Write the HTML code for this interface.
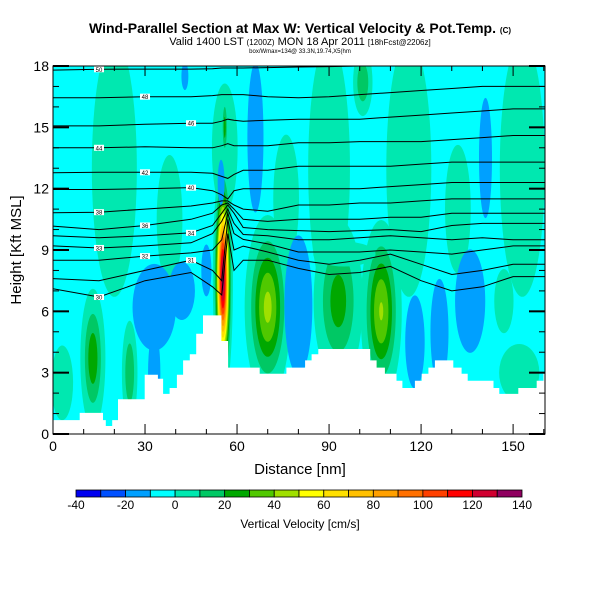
<!DOCTYPE html>
<html><head><meta charset="utf-8"><style>
body{margin:0;background:#fff;}
svg text{font-family:"Liberation Sans",sans-serif;}
</style></head><body>
<svg id="c" width="600" height="600" xmlns="http://www.w3.org/2000/svg">
<text x="300" y="33" text-anchor="middle" font-size="14" font-weight="bold">Wind-Parallel Section at Max W: Vertical Velocity &amp; Pot.Temp. <tspan font-size="8">(C)</tspan></text>
<text x="300" y="45" text-anchor="middle" font-size="11">Valid 1400 LST <tspan font-size="8">(1200Z)</tspan> MON 18 Apr 2011 <tspan font-size="8">[18hFcst@2206z]</tspan></text>
<text x="300" y="53" text-anchor="middle" font-size="6">box/Wmax=134@ 33.3N,19.74,X5(hm</text>
<defs><clipPath id="clip"><rect x="53" y="66" width="492" height="368"/></clipPath></defs>
<g id="plot" clip-path="url(#clip)"></g>
<g id="axes"></g>
<g id="cbar"></g>
<text x="300" y="474" text-anchor="middle" font-size="15">Distance [nm]</text>
<text transform="translate(21,250) rotate(-90)" text-anchor="middle" font-size="15">Height [Kft MSL]</text>
<text x="300" y="528" text-anchor="middle" font-size="12">Vertical Velocity [cm/s]</text>
</svg>
<script>
const levels=[-40,-30,-20,-10,0,10,20,30,40,50,60,70,80,90,100,110,120,130,140];
const colors=["#0000f0","#0050ff","#00a0ff","#00ffff","#00e8b0","#00c864","#00a800","#50c800","#a0e000","#ffff00","#ffe000","#ffc000","#ffa000","#ff7000","#ff4000","#ff0000","#d00030","#900060"];
const blobX=[20,38,56,56,66,43,76,90,101,116,132,141,153, 3,13,25,33,42,33,50,55.4,54.8,70,80,93,107,118,126,136,147,152,95];
const blobY=[13,10.5,14,15,14.5,17.5,11.5,13,17.2,13,11,13.5,13, 2.5,3.7,3,6.2,7.0,3,8,7.6,12.3,6.2,6.3,6.5,6,4.5,5,6.5,6.5,3,8.8];
const blobW=[7,4,4,0.8,2.5,1.0,4,6.5,2.5,7,4,1.8,7, 3.5,3,2,6,3,1.5,1.3,1.8,0.8,5,3.2,6,4.5,2.5,2.5,3.5,3,7,10];
const blobH=[6,3,3,1.2,3.5,0.6,3,6,1.3,6,3,2.5,6, 1.8,2.5,2,1.8,1.0,1.5,1.0,3.3,0.8,3,2.4,3,3,1.8,2.2,1.8,1.5,1.5,0.6];
const blobV=[15,15,15,30,-15,-18,15,15,25,15,15,-20,15, 14,32,25,-20,-38,-30,-25,140,-35,48,-38,30,46,-25,-20,-36,15,12,14];
const terrX=[0,8.7,16.3,17.2,19.3,21.2,29.9,34.2,35.9,38,40.4,42.4,44.6,46.7,48.9,54.9,57.1,67.4,76.1,82.2,84.3,86.5,103.4,105.5,108.2,112,113.9,118,120.2,122.4,124.5,130.5,133.2,135.2,143.6,145.5,151.7,157.7,159.9,161];
const terrH=[0.68,1.03,0.68,0.39,0.68,1.7,2.9,2.7,1.96,2.25,2.9,3.6,3.9,4.9,5.8,4.55,3.25,2.95,3.25,3.6,3.9,4.16,3.6,3.25,2.95,2.6,2.25,2.6,2.95,3.25,3.6,3.25,2.95,2.6,2.25,1.96,2.25,2.6,2.95,2.95];
const thX=[0,15,30,45,52,55,57,59,62,70,80,90,100,110,120,130,140,150,160.4];
const thA=[17.8,17.84,17.85,17.85,17.87,17.9,17.9,17.9,17.9,17.92,17.95,17.97,18,18,18,18,18,18,18];
const thB=[16.45,16.45,16.5,16.5,16.55,16.6,16.6,16.6,16.6,16.5,16.45,16.5,16.6,16.7,16.8,16.9,17.0,17.0,17.0];
const thC=[15.07,15.07,15.15,15.2,15.2,15.3,15.4,15.35,15.3,15.35,15.4,15.4,15.4,15.5,15.6,15.7,15.8,15.9,15.9];
const thD=[14.0,14.0,14.05,14.0,14.0,14.1,14.2,14.1,14.1,14.1,14.25,14.25,14.3,14.3,14.3,14.4,14.5,14.6,14.6];
const thE=[12.78,12.8,12.8,12.8,12.75,12.6,12.5,12.7,12.9,12.9,13.1,13.1,13.1,13.1,13.2,13.3,13.3,13.3,13.3];
const thF=[11.96,11.96,12.0,12.05,11.9,11.7,11.5,11.9,12.0,12.0,12.0,12.0,12.0,12.1,12.2,12.3,12.3,12.3,12.3];
const thG=[10.82,10.85,11.0,11.15,11.3,11.4,11.4,11.2,11.0,10.9,11.2,11.2,11.3,11.3,11.4,11.5,11.5,11.5,11.5];
const thH=[10.17,10.0,10.2,10.5,10.8,11.2,11.3,11.0,10.5,10.4,10.5,10.5,10.5,10.6,10.6,10.8,10.8,10.8,10.8];
const thI=[9.7,9.6,9.7,9.84,10.2,10.8,11.2,10.8,10.1,10.0,9.95,9.9,9.95,10.0,9.9,10.2,10.3,10.3,10.3];
const thJ=[9.2,9.1,9.2,9.35,9.8,10.4,11.0,10.3,9.76,9.7,9.5,9.5,9.6,9.7,9.6,9.5,9.6,9.5,9.5];
const thK=[8.5,8.5,8.7,8.86,9.0,9.5,10.8,9.8,9.52,9.3,8.9,8.9,8.9,9.0,8.9,8.8,9.0,9.2,9.2];
const thL=[7.6,7.5,8.0,8.5,8.0,7.5,10.5,9.0,9.19,8.9,8.5,8.3,8.5,8.8,8.3,7.8,8.0,8.3,8.3];
const thM=[7.1,6.7,7.5,7.9,7.2,6.8,9.8,8.0,8.5,8.5,8.1,7.8,7.9,8.2,7.5,7.0,7.2,7.7,7.7];
const thetas=[thA,thB,thC,thD,thE,thF,thG,thH,thI,thJ,thK,thL,thM];
const thLabels=["50","48","46","44","42","40","38","36","34","33","32","31","30"];
const xTicks=[0,30,60,90,120,150];
const yTicks=[0,3,6,9,12,15,18];
const cbTicks=[-40,-20,0,20,40,60,80,100,120,140];

const NS="http://www.w3.org/2000/svg";
const X0=53,X1=545,Y0=434,Y1=66,XMAX=160.4,YMAX=18;
const sx=v=>X0+v/XMAX*(X1-X0);
const sy=v=>Y0-v/YMAX*(Y0-Y1);
function mk(t,a,p){const e=document.createElementNS(NS,t);for(const k in a)e.setAttribute(k,a[k]);p.appendChild(e);return e;}
function col(v){for(let i=0;i<colors.length;i++)if(v<levels[i+1])return colors[i];return colors[colors.length-1];}
const plot=document.getElementById('plot');
const bg=mk('rect',{x:X0,y:Y1,width:X1-X0,height:Y0-Y1,fill:"#00ffff"},plot);


const base=-5;
for(let b=0;b<blobX.length;b++){
  const pk=blobV[b];
  const ls=pk>0?levels.filter(l=>l>=0&&l<pk):levels.filter(l=>l<=-10&&l>pk);
  ls.forEach(L=>{
    const ratio=(L-base)/pk; if(ratio<=0||ratio>=1)return;
    const r=Math.sqrt(Math.log(1/ratio));
    const fillV=pk>0?L+5:L-5;
    const e=mk('ellipse',{cx:sx(blobX[b]),cy:sy(blobY[b]),rx:blobW[b]*r/XMAX*(X1-X0),ry:blobH[b]*r/YMAX*(Y0-Y1),fill:col(fillV)},plot);
    
    
  });
}
thetas.forEach((t,i)=>{
  let d="";thX.forEach((x,j)=>{d+=(j?"L":"M")+sx(x).toFixed(1)+","+sy(t[j]).toFixed(1);});
  const p=mk('path',{d:d,fill:"none",stroke:"#000","stroke-width":1},plot);
  
  
  const k=1+(i%3);const lx=sx(thX[k]);const ly=sy(t[k]);
  const lb=mk('rect',{x:lx-5,y:ly-3,width:10,height:6,fill:"#fff"},plot);
  
  
  const tx=mk('text',{x:lx,y:ly+2.5,"font-size":6,"text-anchor":"middle"},plot);tx.textContent=thLabels[i];
  
  
});
let td="M"+sx(0)+","+Y0;
for(let j=0;j<terrX.length-1;j++){
  td+="L"+sx(terrX[j]).toFixed(1)+","+sy(terrH[j]).toFixed(1)+"L"+sx(terrX[j+1]).toFixed(1)+","+sy(terrH[j]).toFixed(1);
}
td+="L"+X1+","+sy(terrH[terrH.length-1]).toFixed(1)+"L"+X1+","+Y0+"Z";
const ter=mk('path',{d:td,fill:"#fff"},plot);


const ax=document.getElementById('axes');
const fr=mk('rect',{x:X0,y:Y1,width:X1-X0,height:Y0-Y1,fill:"none",stroke:"#000","stroke-width":1},ax);


for(let v=0;v<=160;v+=10){
  const len=(v%30===0)?10:5;
  const t=mk('line',{x1:sx(v),x2:sx(v),y1:Y0,y2:Y0-len,stroke:"#000"},ax);
  
  
  const t2=mk('line',{x1:sx(v),x2:sx(v),y1:Y1,y2:Y1+len,stroke:"#000"},ax);
  
  
}
xTicks.forEach(v=>{
  const l=mk('text',{x:sx(v),y:Y0+17,"font-size":14,"text-anchor":"middle"},ax);l.textContent=v;
  
  
});
for(let v=0;v<=18;v+=1){
  const len=(v%3===0)?16:6;
  const t=mk('line',{x1:X0,x2:X0+len,y1:sy(v),y2:sy(v),stroke:"#000","stroke-width":(v%3===0)?2:1},ax);
  
  
  const t2=mk('line',{x1:X1,x2:X1-len,y1:sy(v),y2:sy(v),stroke:"#000","stroke-width":(v%3===0)?2:1},ax);
  
  
}
yTicks.forEach(v=>{
  const l=mk('text',{x:X0-4,y:sy(v)+5,"font-size":14,"text-anchor":"end"},ax);l.textContent=v;
  
  
});
const cb=document.getElementById('cbar');
const CX0=76,CX1=522,cw=(CX1-CX0)/colors.length;
colors.forEach((c,i)=>{
  const r=mk('rect',{x:CX0+i*cw,y:490,width:cw,height:7,fill:c,stroke:"#000","stroke-width":0.8},cb);
  
  
});
cbTicks.forEach(v=>{
  const l=mk('text',{x:CX0+(v+40)/180*(CX1-CX0),y:509,"font-size":12,"text-anchor":"middle"},cb);l.textContent=v;
  
  
});
</script>
</body></html>
